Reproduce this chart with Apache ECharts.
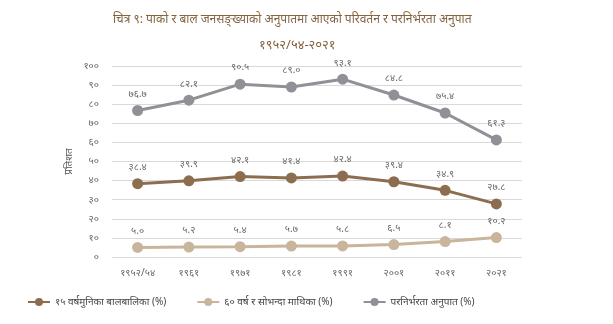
<!DOCTYPE html>
<html><head><meta charset="utf-8">
<script src="https://cdn.jsdelivr.net/npm/echarts@6/dist/echarts.min.js"></script>
<style>html,body{margin:0;padding:0;background:#fff}#c{width:613px;height:324px}</style>
</head><body><div id="c"></div>
<script>
const categories = ['१९५२/५४','१९६१','१९७१','१९८१','१९९१','२००१','२०११','२०२१'];
const under15 = [38.4, 39.9, 42.1, 41.4, 42.4, 39.4, 34.9, 27.8];
const over60 = [5.0, 5.2, 5.4, 5.7, 5.8, 6.5, 8.1, 10.2];
const dependency = [76.7, 82.1, 90.5, 89.0, 93.1, 84.8, 75.4, 61.3];
const seriesNames = ['१५ वर्षमुनिका बालबालिका (%)','६० वर्ष र सोभन्दा माथिका (%)','परनिर्भरता अनुपात (%)'];
const colors = ['#8c6d4f','#c9b49c','#8f9196'];
const dev = s => String(s).replace(/[0-9]/g, d => '०१२३४५६७८९'[+d]);
const fmt = v => dev(v.toFixed(1));
const chart = echarts.init(document.getElementById('c'));
const mk = (name, data, color) => ({
  name, type: 'line', data, color,
  symbol: 'circle', symbolSize: 11,
  lineStyle: { width: 3, color },
  itemStyle: { color },
  label: { show: true, position: 'top', distance: 6, color: '#666', fontSize: 10, formatter: p => fmt(p.value) }
});
chart.setOption({
  animation: false,
  textStyle: { fontFamily: 'Noto Sans, sans-serif' },
  title: [
    { text: 'चित्र ९: पाको र बाल जनसङ्ख्याको अनुपातमा आएको परिवर्तन र परनिर्भरता अनुपात', left: 108, top: 9, textStyle: { fontSize: 12, fontWeight: 'normal', color: '#86643f' } },
    { text: '१९५२/५४-२०२१', left: 254, top: 34, textStyle: { fontSize: 13, fontWeight: 'normal', color: '#86643f' } }
  ],
  grid: { left: 112, right: 91, top: 66, bottom: 67 },
  legend: {
    bottom: 12, left: 22, itemGap: 30, itemWidth: 22, itemHeight: 10,
    textStyle: { fontSize: 10, color: '#444' },
    data: seriesNames
  },
  xAxis: {
    type: 'category', data: categories, boundaryGap: true,
    axisLine: { show: false }, axisTick: { show: false },
    axisLabel: { color: '#666', fontSize: 10, margin: 11 }
  },
  yAxis: {
    type: 'value', min: 0, max: 100, interval: 10,
    name: 'प्रतिशत', nameLocation: 'middle', nameGap: 38, nameRotate: 90, nameMoveOverlap: false,
    nameTextStyle: { color: '#555', fontSize: 10 },
    axisLine: { show: false }, axisTick: { show: false },
    axisLabel: { color: '#666', fontSize: 10, margin: 13, formatter: v => dev(v) },
    splitLine: { lineStyle: { color: '#d9d9d9', width: 1 } }
  },
  series: [
    mk(seriesNames[0], under15, colors[0]),
    mk(seriesNames[1], over60, colors[1]),
    mk(seriesNames[2], dependency, colors[2])
  ]
});
</script></body></html>
